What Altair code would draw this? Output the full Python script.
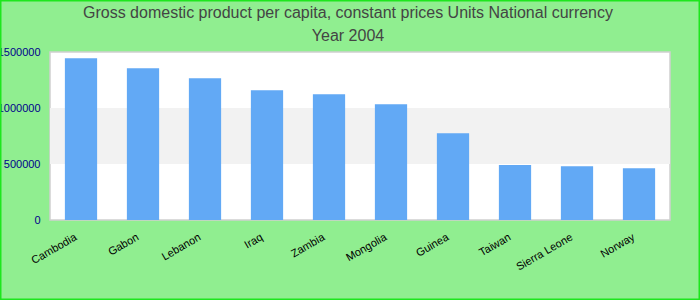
import altair as alt
import pandas as pd

countries = ["Cambodia", "Gabon", "Lebanon", "Iraq", "Zambia", "Mongolia",
             "Guinea", "Taiwan", "Sierra Leone", "Norway"]
values = [1444000, 1355000, 1266000, 1159000, 1123000, 1034000,
          775000, 490000, 481000, 463000]
band_low = [500000]
band_high = [1000000]
y_ticks = [0, 500000, 1000000, 1500000]
title_lines = ["Gross domestic product per capita, constant prices Units National currency",
               "Year 2004"]

df = pd.DataFrame({"country": countries, "value": values})
band_df = pd.DataFrame({"lo": band_low, "hi": band_high})

FONT = "Liberation Sans"

yscale = alt.Scale(domain=[0, 1500000], nice=False, zero=True)
xscale = alt.Scale(paddingInner=0.48, paddingOuter=0.24)

band = alt.Chart(band_df).mark_rect(color="#f2f2f2").encode(
    y=alt.Y("lo:Q", scale=yscale),
    y2="hi:Q",
    x=alt.value(0),
    x2=alt.value(620),
)

bars = alt.Chart(df).mark_bar(color="#62a9f5").encode(
    x=alt.X("country:N", sort=None, scale=xscale,
            axis=alt.Axis(title=None, labelAngle=-30, ticks=False, domain=False,
                          labelFontSize=11, labelColor="#000000", labelFont=FONT,
                          labelPadding=11, labelOffset=-8)),
    y=alt.Y("value:Q", scale=yscale,
            axis=alt.Axis(title=None, values=y_ticks, format="d", ticks=False,
                          domain=False, grid=False, labelFontSize=11,
                          labelColor="#00008b", labelFont=FONT, labelPadding=10)),
)

border = alt.Chart(alt.Data(values=[{}])).mark_rect(
    fill="transparent", stroke="#1ee61e", strokeWidth=1.5
).encode(
    x=alt.value(-49.25), x2=alt.value(649.25),
    y=alt.value(-51.25), y2=alt.value(247.25),
)

title1 = alt.Chart(alt.Data(values=[{"t": title_lines[0]}])).mark_text(
    font=FONT, fontSize=16, color="#444444", align="center", baseline="middle"
).encode(text="t:N", x=alt.value(298), y=alt.value(-39))

title2 = alt.Chart(alt.Data(values=[{"t": title_lines[1]}])).mark_text(
    font=FONT, fontSize=16, color="#444444", align="center", baseline="middle"
).encode(text="t:N", x=alt.value(298), y=alt.value(-16))

chart = alt.layer(band, bars, border, title1, title2).properties(
    width=620,
    height=168,
    background="#90ee90",
    padding={"left": 50, "top": 52, "right": 30, "bottom": 80},
    autosize=alt.AutoSizeParams(type="none"),
).configure_view(stroke="#d0d0d0", strokeWidth=1.5, fill="white")

chart.save("out.html", embed_options={"renderer": "svg", "actions": False})
